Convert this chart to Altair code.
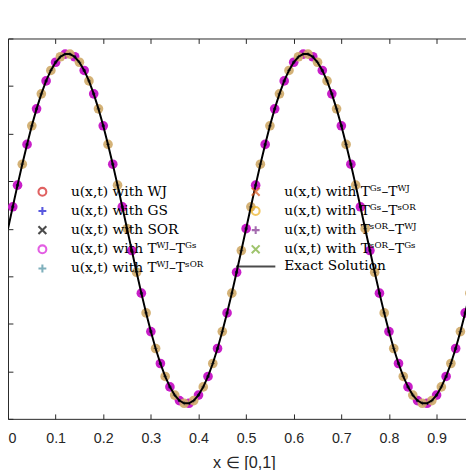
import altair as alt
import pandas as pd

# ---------------- data ----------------
x_vals = [0.00, 0.01, 0.02, 0.03, 0.04, 0.05, 0.06, 0.07, 0.08, 0.09,
          0.10, 0.11, 0.12, 0.13, 0.14, 0.15, 0.16, 0.17, 0.18, 0.19,
          0.20, 0.21, 0.22, 0.23, 0.24, 0.25, 0.26, 0.27, 0.28, 0.29,
          0.30, 0.31, 0.32, 0.33, 0.34, 0.35, 0.36, 0.37, 0.38, 0.39,
          0.40, 0.41, 0.42, 0.43, 0.44, 0.45, 0.46, 0.47, 0.48, 0.49,
          0.50, 0.51, 0.52, 0.53, 0.54, 0.55, 0.56, 0.57, 0.58, 0.59,
          0.60, 0.61, 0.62, 0.63, 0.64, 0.65, 0.66, 0.67, 0.68, 0.69,
          0.70, 0.71, 0.72, 0.73, 0.74, 0.75, 0.76, 0.77, 0.78, 0.79,
          0.80, 0.81, 0.82, 0.83, 0.84, 0.85, 0.86, 0.87, 0.88, 0.89,
          0.90, 0.91, 0.92, 0.93, 0.94, 0.95, 0.96, 0.97, 0.98, 0.99,
          1.00]

u_vals = [0.000,
          0.115, 0.229, 0.339, 0.443, 0.541, 0.630, 0.709, 0.777, 0.832, 0.875, 0.904, 0.918,
          0.918, 0.904, 0.875, 0.832, 0.777, 0.709, 0.630, 0.541, 0.443, 0.339, 0.229, 0.115,
          0.000,
          -0.115, -0.229, -0.339, -0.443, -0.541, -0.630, -0.709, -0.777, -0.832, -0.875, -0.904, -0.918,
          -0.918, -0.904, -0.875, -0.832, -0.777, -0.709, -0.630, -0.541, -0.443, -0.339, -0.229, -0.115,
          0.000,
          0.115, 0.229, 0.339, 0.443, 0.541, 0.630, 0.709, 0.777, 0.832, 0.875, 0.904, 0.918,
          0.918, 0.904, 0.875, 0.832, 0.777, 0.709, 0.630, 0.541, 0.443, 0.339, 0.229, 0.115,
          0.000,
          -0.115, -0.229, -0.339, -0.443, -0.541, -0.630, -0.709, -0.777, -0.832, -0.875, -0.904, -0.918,
          -0.918, -0.904, -0.875, -0.832, -0.777, -0.709, -0.630, -0.541, -0.443, -0.339, -0.229, -0.115,
          0.000]

x_ticks = [0.0, 0.1, 0.2, 0.3, 0.4, 0.5, 0.6, 0.7, 0.8, 0.9]
y_ticks = [-1.0, -0.75, -0.5, -0.25, 0.0, 0.25, 0.5, 0.75, 1.0]

leg1_labels = ["u(x,t) with WJ", "u(x,t) with GS", "u(x,t) with SOR",
               "u(x,t) with Tᵂᴶ–Tᴳˢ", "u(x,t) with Tᵂᴶ–Tˢᴼᴿ"]
leg2_labels = ["u(x,t) with Tᴳˢ–Tᵂᴶ", "u(x,t) with Tᴳˢ–Tˢᴼᴿ",
               "u(x,t) with Tˢᴼᴿ–Tᵂᴶ", "u(x,t) with Tˢᴼᴿ–Tᴳˢ", "Exact Solution"]

# ---------------- styles ----------------
CIRCLE = "circle"
PLUS = "M-1,0H1M0,-1V1"
CROSS = "M-1,-1L1,1M-1,1L1,-1"
LINE = "M-5,0H5"
leg1_colors = ["#D42020", "#1414D2", "#000000", "#D81BD8", "#4A8FA0"]
leg1_shapes = [CIRCLE, PLUS, CROSS, CIRCLE, PLUS]
leg2_colors = ["#D95319", "#EDB120", "#7E2F8E", "#77AC30", "#000000"]
leg2_shapes = [CROSS, CIRCLE, PLUS, CROSS, LINE]

FRAME = "#262626"
W, H = 470, 387
xs = alt.Scale(domain=[0, 0.97], nice=False, zero=False)
ys = alt.Scale(domain=[-1, 1], nice=False, zero=False)

x_axis_bottom = alt.Axis(orient="bottom", values=x_ticks, format="~g", domain=False,
                         ticks=True, tickSize=5, tickColor=FRAME, tickWidth=1, offset=-5,
                         labelFont="Liberation Sans", labelFontSize=14.5, labelColor=FRAME,
                         labelPadding=13, labelFlush=True,
                         title="x ∈ [0,1]", titleFont="Liberation Sans", titleFontSize=16.5,
                         titleFontWeight="normal", titleColor=FRAME, titlePadding=10, titleX=240,
                         grid=False)
x_axis_top = alt.Axis(orient="top", values=x_ticks, domain=False, ticks=True, tickSize=5,
                      tickColor=FRAME, tickWidth=1, offset=-5, labels=False, title=None,
                      grid=False)
y_axis = alt.Axis(orient="left", values=y_ticks, domain=False, ticks=True, tickSize=5,
                  tickColor=FRAME, tickWidth=1, offset=-5, labels=False, title=None, grid=False)

df = pd.DataFrame({"x": x_vals, "u": u_vals, "k": list(range(len(x_vals)))})
mag_df = df[(df.k == 1) | ((df.k % 2 == 0) & (df.k > 0))]
tan_df = df[(df.k % 2 == 1) & (df.k >= 3)]


def enc(chart, axis=x_axis_bottom):
    return chart.encode(x=alt.X("x:Q", scale=xs, axis=axis),
                        y=alt.Y("u:Q", scale=ys, axis=y_axis))


def legend(lx, ly):
    return alt.Legend(orient="none", legendX=lx, legendY=ly, title=None, padding=0,
                      symbolSize=64, labelFont="DejaVu Serif", labelFontSize=14,
                      labelColor="black", labelOffset=22, rowPadding=1.5,
                      symbolStrokeWidth=2.1, labelLimit=0)


# legend carriers: one row per series at the domain end x = 1 (cropped, as in the picture)
leg1_df = pd.DataFrame({"method": leg1_labels, "x": [x_vals[-1]] * 5, "u": [u_vals[-1]] * 5})
leg2_df = pd.DataFrame({"method": leg2_labels, "x": [x_vals[-1]] * 5, "u": [u_vals[-1]] * 5})

L1 = legend(28, 149)
c1 = enc(alt.Chart(leg1_df).mark_point(filled=False, strokeWidth=2.1, size=20, clip=True)).encode(
    color=alt.Color("method:N", scale=alt.Scale(domain=leg1_labels, range=leg1_colors), legend=L1),
    shape=alt.Shape("method:N", scale=alt.Scale(domain=leg1_labels, range=leg1_shapes), legend=L1))
L2 = legend(245, 149)
c2 = enc(alt.Chart(leg2_df).mark_point(filled=False, strokeWidth=2.1, size=20, clip=True)).encode(
    color=alt.Color("method:N", scale=alt.Scale(domain=leg2_labels, range=leg2_colors), legend=L2),
    shape=alt.Shape("method:N", scale=alt.Scale(domain=leg2_labels, range=leg2_shapes), legend=L2))

mag = enc(alt.Chart(mag_df).mark_point(filled=True, shape="circle", size=96, color="#C81EC8",
                                       opacity=1, clip=True))
mag_c = enc(alt.Chart(mag_df).mark_point(filled=True, shape="circle", size=12, color="#1E1A50",
                                         opacity=1, clip=True))
tan = enc(alt.Chart(tan_df).mark_point(filled=True, shape="circle", size=96, color="#CFAA68",
                                       opacity=0.9, clip=True))
tan_c = enc(alt.Chart(tan_df).mark_point(filled=False, shape=PLUS, size=16, color="#6B6553",
                                         strokeWidth=1.2, opacity=1, clip=True))

inner = alt.layer(c1, c2, mag, mag_c, tan, tan_c).resolve_scale(color="independent",
                                                               shape="independent")
line = enc(alt.Chart(df).mark_line(color="black", strokeWidth=2, clip=True), axis=x_axis_top)

chart = alt.layer(inner, line).resolve_axis(x="independent").properties(
    width=W, height=H,
    background="white",
    autosize=alt.AutoSizeParams(type="none"),
    padding={"left": 0, "top": 27, "right": -4, "bottom": 48},
).configure_view(stroke=FRAME, strokeWidth=1)

chart.save("out.html", embed_options={"renderer": "svg", "actions": False})
